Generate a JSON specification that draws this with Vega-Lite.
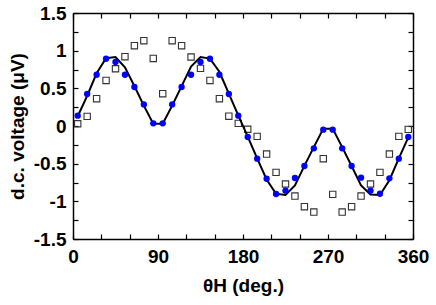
{
  "$schema": "https://vega.github.io/schema/vega-lite/v6.json",
  "width": 340,
  "height": 226,
  "autosize": {"type": "none"},
  "padding": {"left": 73, "top": 13, "right": 23, "bottom": 66},
  "config": {
    "view": {"stroke": null},
    "font": "Liberation Sans",
    "axis": {
      "grid": false,
      "domainColor": "black",
      "domainWidth": 1.5,
      "tickColor": "black",
      "tickWidth": 1.2,
      "tickSize": -5,
      "labelFlush": false,
      "labelFont": "Liberation Sans",
      "labelFontSize": 19,
      "labelFontWeight": "bold",
      "labelColor": "black",
      "titleFont": "Liberation Sans",
      "titleFontSize": 19,
      "titleFontWeight": "bold",
      "titleColor": "black"
    }
  },
  "data": {
    "values": [
      {"theta": 5, "dot": 0.137, "sq": 0.03, "fit": 0.13},
      {"theta": 15, "dot": 0.425, "sq": 0.128, "fit": 0.4},
      {"theta": 25, "dot": 0.68, "sq": 0.362, "fit": 0.7},
      {"theta": 35, "dot": 0.893, "sq": 0.605, "fit": 0.9},
      {"theta": 45, "dot": 0.85, "sq": 0.76, "fit": 0.915},
      {"theta": 55, "dot": 0.68, "sq": 0.92, "fit": 0.78},
      {"theta": 65, "dot": 0.518, "sq": 1.066, "fit": 0.53},
      {"theta": 75, "dot": 0.287, "sq": 1.132, "fit": 0.27},
      {"theta": 85, "dot": 0.035, "sq": 0.897, "fit": 0.03},
      {"theta": 95, "dot": 0.035, "sq": 0.429, "fit": 0.03},
      {"theta": 105, "dot": 0.287, "sq": 1.132, "fit": 0.27},
      {"theta": 115, "dot": 0.518, "sq": 1.066, "fit": 0.53},
      {"theta": 125, "dot": 0.68, "sq": 0.916, "fit": 0.79},
      {"theta": 135, "dot": 0.85, "sq": 0.765, "fit": 0.915},
      {"theta": 145, "dot": 0.893, "sq": 0.605, "fit": 0.895},
      {"theta": 155, "dot": 0.68, "sq": 0.362, "fit": 0.72},
      {"theta": 165, "dot": 0.425, "sq": 0.13, "fit": 0.43},
      {"theta": 175, "dot": 0.137, "sq": 0.035, "fit": 0.14},
      {"theta": 185, "dot": -0.146, "sq": -0.043, "fit": -0.14},
      {"theta": 195, "dot": -0.434, "sq": -0.138, "fit": -0.43},
      {"theta": 205, "dot": -0.7, "sq": -0.372, "fit": -0.71},
      {"theta": 215, "dot": -0.903, "sq": -0.616, "fit": -0.9},
      {"theta": 225, "dot": -0.859, "sq": -0.77, "fit": -0.915},
      {"theta": 235, "dot": -0.69, "sq": -0.93, "fit": -0.79},
      {"theta": 245, "dot": -0.531, "sq": -1.071, "fit": -0.53},
      {"theta": 255, "dot": -0.297, "sq": -1.142, "fit": -0.28},
      {"theta": 265, "dot": -0.049, "sq": -0.434, "fit": -0.035},
      {"theta": 275, "dot": -0.049, "sq": -0.908, "fit": -0.035},
      {"theta": 285, "dot": -0.297, "sq": -1.142, "fit": -0.28},
      {"theta": 295, "dot": -0.531, "sq": -1.071, "fit": -0.53},
      {"theta": 305, "dot": -0.686, "sq": -0.93, "fit": -0.79},
      {"theta": 315, "dot": -0.859, "sq": -0.77, "fit": -0.91},
      {"theta": 325, "dot": -0.899, "sq": -0.616, "fit": -0.915},
      {"theta": 335, "dot": -0.695, "sq": -0.372, "fit": -0.72},
      {"theta": 345, "dot": -0.434, "sq": -0.138, "fit": -0.43},
      {"theta": 355, "dot": -0.146, "sq": -0.045, "fit": -0.15}
    ]
  },
  "layer": [
    {
      "mark": {"type": "point", "shape": "square", "filled": false, "stroke": "#333333", "strokeWidth": 1.1, "size": 40, "opacity": 1},
      "encoding": {
        "x": {"field": "theta", "type": "quantitative", "scale": {"domain": [0, 360], "nice": false},
          "axis": {"orient": "bottom", "title": "θH (deg.)", "values": [0, 30, 60, 90, 120, 150, 180, 210, 240, 270, 300, 330, 360],
            "labelExpr": "datum.value % 90 === 0 ? datum.label : ''", "labelPadding": 13, "titlePadding": 10}},
        "y": {"field": "sq", "type": "quantitative", "scale": {"domain": [-1.5, 1.5], "nice": false, "zero": false},
          "axis": {"orient": "left", "title": "d.c. voltage (μV)", "values": [-1.5, -1.25, -1, -0.75, -0.5, -0.25, 0, 0.25, 0.5, 0.75, 1, 1.25, 1.5],
            "labelExpr": "(datum.value * 2) % 1 === 0 ? '' + datum.value : ''", "labelPadding": 12, "titlePadding": 6}}
      }
    },
    {
      "mark": {"type": "line", "color": "black", "strokeWidth": 2},
      "encoding": {
        "x": {"field": "theta", "type": "quantitative", "axis": null},
        "y": {"field": "fit", "type": "quantitative", "axis": null}
      }
    },
    {
      "mark": {"type": "circle", "color": "#0000ff", "size": 40, "opacity": 1},
      "encoding": {
        "x": {"field": "theta", "type": "quantitative", "axis": null},
        "y": {"field": "dot", "type": "quantitative", "axis": null}
      }
    },
    {
      "mark": {"type": "point", "opacity": 0},
      "encoding": {
        "x": {"field": "theta", "type": "quantitative",
          "axis": {"orient": "top", "title": null, "labels": false, "values": [0, 30, 60, 90, 120, 150, 180, 210, 240, 270, 300, 330, 360]}},
        "y": {"field": "dot", "type": "quantitative",
          "axis": {"orient": "right", "title": null, "labels": false, "values": [-1.5, -1.25, -1, -0.75, -0.5, -0.25, 0, 0.25, 0.5, 0.75, 1, 1.25, 1.5]}}
      }
    }
  ],
  "resolve": {"axis": {"x": "independent", "y": "independent"}}
}
